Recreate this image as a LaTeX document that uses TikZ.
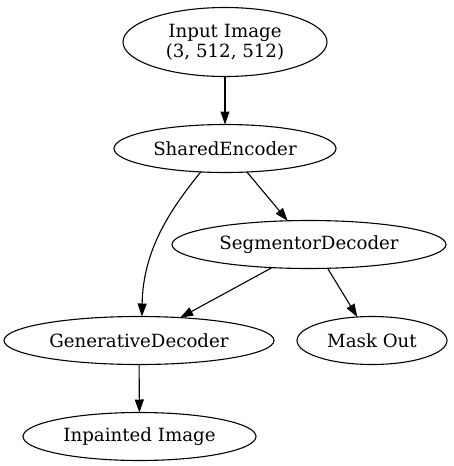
\documentclass[tikz,border=0pt]{standalone}
\usepackage{fontspec}
\setmainfont{DejaVu Serif}
\usetikzlibrary{shapes.geometric,arrows.meta}

\begin{document}
\begin{tikzpicture}[x=1pt,y=-1pt,
	  box/.style={draw, ellipse, line width=1.1pt, inner sep=0pt, outer sep=0pt,
	    font=\fontsize{18.2}{20}\selectfont, align=center},
	  edge/.style={line width=1.1pt, -{Triangle[length=13pt,width=9pt]}}]
	  \useasboundingbox (0,0) rectangle (453,466);   % page size

	  % nodes, one per rank
	  \node[box, minimum width=204pt, minimum height=69pt] (input) at (225,42) {Input Image\\(3, 512, 512)};
	  \node[box, minimum width=222pt, minimum height=48pt] (shared) at (225,148.5) {SharedEncoder};
	  \node[box, minimum width=274pt, minimum height=48pt] (segmentor) at (309,244.5) {SegmentorDecoder};
	  \node[box, minimum width=270pt, minimum height=48pt] (generative) at (139,340.5) {GenerativeDecoder};
	  \node[box, minimum width=150pt, minimum height=48pt] (mask) at (372,340.5) {Mask Out};
	  \node[box, minimum width=233pt, minimum height=48pt] (inpainted) at (139.5,436.5) {Inpainted Image};

	  % edges
	  \draw[edge] (input) -- (shared);
	  \draw[edge] (shared.-136) .. controls (170,210) and (143,250) .. (generative.83);
	  \draw[edge] (shared.-47) -- (segmentor.132);
	  \draw[edge] (segmentor.-148) -- (generative.29);
	  \draw[edge] (segmentor.-52) -- (mask.122);
	  \draw[edge] (generative) -- (inpainted);

\end{tikzpicture}
\end{document}
